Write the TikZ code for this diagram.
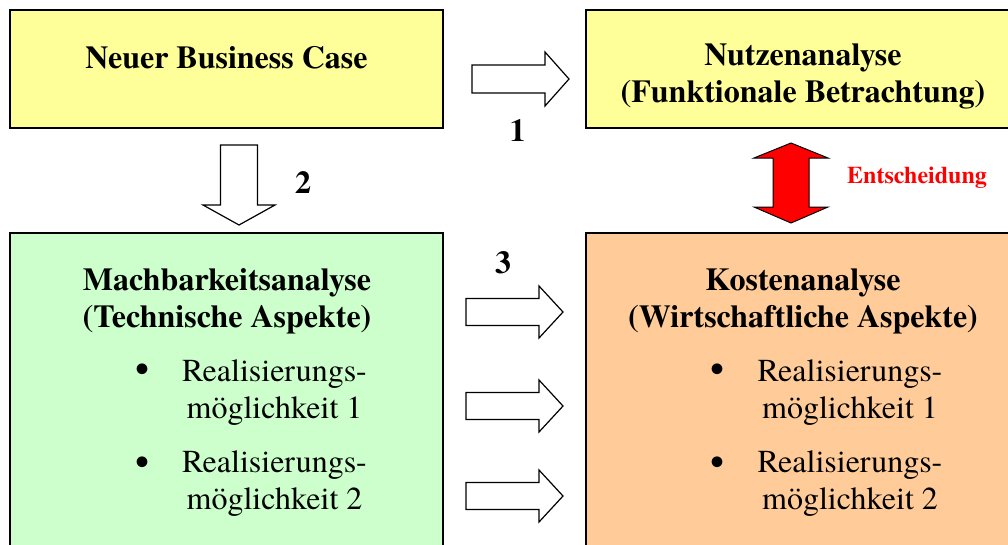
\documentclass[tikz,border=0pt]{standalone}
\usepackage{fontspec}
\setmainfont{TeX Gyre Termes}
\definecolor{yel}{HTML}{FFFF99}
\definecolor{grn}{HTML}{CCFFCC}
\definecolor{org}{HTML}{FFCC99}
\begin{document}
\begin{tikzpicture}[x=1pt,y=-1pt,
  box/.style={draw=black, line width=2pt, rectangle, inner sep=0pt, outer sep=0pt},
  hd/.style={font=\fontsize{32}{37}\selectfont\bfseries, anchor=base, inner sep=0pt},
  tx/.style={font=\fontsize{32}{37}\selectfont, anchor=base, inner sep=0pt},
  bul/.style={font=\fontsize{40}{44}\selectfont, anchor=base, inner sep=0pt},
  blk/.style={draw=black, line width=1.2pt, fill=white, line join=miter},
  redarrow/.style={draw=black, line width=1pt, fill=red, line join=miter}]
\useasboundingbox (0,0) rectangle (1008,544);
\clip (0,0) rectangle (1008,544);
\fill[white] (0,0) rectangle (1008,544);

% boxes
\node[box, fill=yel, minimum width=433pt, minimum height=118pt] (nbc) at (226.5,69) {};
\node[box, fill=yel, minimum width=434pt, minimum height=118pt] (nutz) at (803,69) {};
\node[box, fill=grn, minimum width=433pt, minimum height=337pt] (mach) at (226.5,401.5) {};
\node[box, fill=org, minimum width=434pt, minimum height=337pt] (kost) at (803,401.5) {};

% texts
\node[hd] (t1) at (226.5,68) {Neuer Business Case};
\node[hd] (t2a) at (803,65) {Nutzenanalyse};
\node[hd] (t2b) at (803,102) {(Funktionale Betrachtung)};
\node[hd] (t3a) at (227,290) {Machbarkeitsanalyse};
\node[hd] (t3b) at (227,327) {(Technische Aspekte)};
\node[hd] (t4a) at (803,290) {Kostenanalyse};
\node[hd] (t4b) at (803,327) {(Wirtschaftliche Aspekte)};

% bullet lists
\node[bul] (b1) at (142,382) {•};
\node[tx] (l1a) at (274.5,381) {Realisierungs-};
\node[tx] (l1b) at (274.5,418) {möglichkeit 1};
\node[bul] (b2) at (142,475) {•};
\node[tx] (l2a) at (274.5,472) {Realisierungs-};
\node[tx] (l2b) at (274.5,509) {möglichkeit 2};
\node[bul] (b3) at (717,382) {•};
\node[tx] (r1a) at (850,381) {Realisierungs-};
\node[tx] (r1b) at (850,418) {möglichkeit 1};
\node[bul] (b4) at (717,475) {•};
\node[tx] (r2a) at (850,472) {Realisierungs-};
\node[tx] (r2b) at (850,509) {möglichkeit 2};

% numbers
\node[hd] (n1) at (517.5,141) {1};
\node[hd] (n2) at (303,193) {2};
\node[hd] (n3) at (503,273) {3};
\node[font=\fontsize{24}{28}\selectfont\bfseries, text=red, anchor=base west, inner sep=0pt] (ent) at (847,183) {Entscheidung};

% block arrows
\draw[blk] (472,65) -- (545,65) -- (545,52) -- (569,79) -- (545,106) -- (545,93) -- (472,93) -- cycle;
\draw[blk] (220.5,145) -- (257.5,145) -- (257.5,205) -- (275,205) -- (239,225) -- (203,205) -- (220.5,205) -- cycle;
\foreach \c/\nm in {312/a, 406/b, 496/c}{
  \draw[blk] (466,\c-13.5) -- (539,\c-13.5) -- (539,\c-26) -- (563,\c) -- (539,\c+26) -- (539,\c+13.5) -- (466,\c+13.5) -- cycle;
}
\draw[redarrow] (791,143) -- (828,158) -- (809,158) -- (809,207) -- (828,207) -- (791,223) -- (754,207) -- (773,207) -- (773,158) -- (754,158) -- cycle;
\end{tikzpicture}
\end{document}
